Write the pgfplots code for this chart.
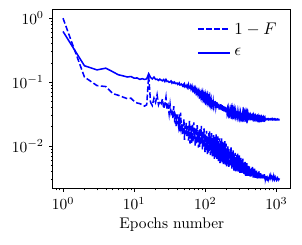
\documentclass[border=0pt]{standalone}
\usepackage{pgfplots}
\pgfplotsset{compat=1.18}
\usepackage{pgfplotstable}
\pgfplotstableread{
e d s
1 1.0 0.62
2 0.12 0.18
3 0.088 0.155
4 0.085 0.165
5 0.066 0.145
6 0.062 0.13
7 0.058 0.125
8 0.055 0.12
9 0.056 0.122
10 0.050 0.115
11 0.047 0.116
12 0.046 0.11
13 0.044 0.113
14 0.042 0.11
15 0.044 0.112
16 0.125 0.135
17 0.0482 0.118
18 0.0429 0.1119
19 0.0559 0.1196
20 0.048 0.110
21 0.0631 0.111
22 0.0442 0.106
23 0.0505 0.111
24 0.0463 0.107
25 0.0543 0.1045
26 0.0384 0.1095
27 0.0446 0.1019
28 0.0578 0.110
29 0.0370 0.1021
30 0.0424 0.103
31 0.0317 0.0992
32 0.0446 0.1007
33 0.0331 0.1039
34 0.0370 0.0962
35 0.0270 0.0998
36 0.0419 0.0965
37 0.026 0.0995
38 0.0291 0.0946
39 0.0203 0.0951
40 0.0312 0.0964
41 0.0244 0.0917
42 0.0205 0.0939
43 0.0312 0.0970
44 0.0169 0.0900
45 0.0331 0.0906
46 0.0192 0.0930
47 0.0223 0.0897
48 0.0153 0.0868
49 0.0192 0.0906
50 0.0265 0.0868
51 0.0124 0.0922
52 0.0208 0.0847
53 0.0155 0.0870
54 0.0229 0.0851
55 0.0143 0.0885
56 0.0166 0.0814
57 0.0205 0.0844
58 0.0121 0.0908
59 0.0176 0.0812
60 0.0246 0.0840
61 0.0109 0.0820
62 0.0144 0.0863
63 0.0206 0.0779
64 0.0112 0.0811
65 0.0155 0.0857
66 0.0219 0.0765
67 0.0118 0.0801
68 0.0167 0.0729
69 0.0234 0.0752
70 0.0127 0.0794
71 0.0181 0.0712
72 0.0101 0.0741
73 0.0138 0.0786
74 0.0196 0.0697
75 0.0107 0.0732
76 0.0150 0.0662
77 0.0211 0.0683
78 0.0115 0.0722
79 0.0163 0.0644
80 0.0094 0.0672
81 0.0124 0.0715
82 0.0177 0.0628
83 0.0097 0.0660
84 0.0134 0.0596
85 0.0191 0.0613
86 0.0104 0.0652
87 0.0147 0.0580
88 0.0206 0.0608
89 0.0112 0.0655
90 0.0159 0.0575
91 0.0088 0.0608
92 0.0121 0.0658
93 0.0173 0.0572
94 0.0094 0.0611
95 0.0133 0.0543
96 0.0188 0.0569
97 0.0101 0.0607
98 0.0144 0.0537
99 0.0080 0.0567
100 0.0109 0.0610
101 0.0158 0.0533
102 0.0085 0.0569
103 0.0121 0.0512
104 0.0172 0.0534
105 0.0092 0.0573
106 0.0132 0.0508
107 0.00745 0.0535
108 0.0100 0.0578
109 0.0144 0.0505
110 0.0078 0.0537
111 0.0110 0.0487
112 0.0158 0.0506
113 0.0084 0.0542
114 0.0121 0.0482
115 0.0172 0.0505
116 0.0092 0.0543
117 0.0133 0.0478
118 0.0072 0.0507
119 0.0100 0.0548
120 0.0146 0.0477
121 0.0077 0.0511
122 0.0111 0.0457
123 0.0159 0.0479
124 0.0084 0.0517
125 0.0122 0.0455
126 0.0067 0.0483
127 0.0093 0.0522
128 0.0135 0.0455
129 0.0071 0.0488
130 0.0103 0.0437
131 0.0148 0.0456
132 0.0078 0.0493
133 0.0113 0.0434
134 0.0063 0.0459
135 0.0085 0.0499
136 0.0126 0.0434
137 0.0066 0.0464
138 0.0094 0.0506
139 0.0138 0.0435
140 0.0072 0.0469
141 0.0105 0.0413
142 0.0152 0.0437
143 0.0079 0.0474
144 0.0116 0.0412
145 0.0061 0.0441
146 0.0087 0.0482
147 0.0128 0.0412
148 0.0066 0.0445
149 0.0097 0.0392
150 0.0141 0.0414
151 0.0072 0.0452
152 0.0108 0.0390
153 0.0058 0.0418
154 0.0080 0.0457
155 0.0119 0.0391
156 0.0061 0.0422
157 0.0089 0.0372
158 0.0131 0.0392
159 0.0066 0.0428
160 0.0099 0.0373
161 0.0054 0.0398
162 0.0074 0.0438
163 0.0110 0.0376
164 0.0057 0.0407
165 0.0082 0.0449
166 0.0120 0.0381
167 0.0062 0.0415
168 0.0091 0.0363
169 0.0131 0.0387
170 0.0068 0.0426
171 0.0101 0.0366
172 0.0054 0.0395
173 0.0075 0.0436
174 0.0110 0.0370
175 0.0058 0.0403
176 0.0084 0.0354
177 0.0120 0.0375
178 0.0064 0.0412
179 0.0092 0.0355
180 0.0052 0.0382
181 0.0069 0.0419
182 0.0101 0.0358
183 0.0054 0.0386
184 0.0076 0.0345
185 0.0110 0.0362
186 0.0059 0.0394
187 0.0084 0.0345
188 0.0119 0.0367
189 0.0065 0.0402
190 0.0092 0.0347
191 0.0051 0.0373
192 0.0070 0.0410
193 0.0100 0.0352
194 0.0055 0.0380
195 0.0077 0.0336
196 0.0109 0.0356
197 0.0059 0.0386
198 0.0084 0.0338
199 0.0048 0.0361
200 0.0065 0.0393
202 0.0092 0.0340
204 0.0051 0.0366
206 0.0071 0.0329
208 0.0099 0.0345
210 0.0055 0.0373
212 0.0076 0.0329
214 0.0045 0.0349
216 0.0059 0.0380
218 0.0083 0.0332
220 0.0047 0.0353
222 0.0064 0.0321
224 0.0089 0.0334
226 0.0050 0.0358
228 0.0070 0.0321
230 0.0095 0.0337
232 0.0054 0.0362
234 0.0075 0.0322
236 0.0044 0.0341
238 0.0058 0.0366
240 0.0080 0.0324
242 0.0046 0.0345
244 0.0063 0.0313
246 0.0085 0.0327
248 0.0049 0.0348
250 0.0067 0.0314
252 0.0041 0.0330
254 0.0053 0.0353
256 0.0073 0.0317
258 0.0043 0.0335
260 0.0058 0.0309
262 0.0078 0.0320
264 0.0046 0.0341
266 0.0062 0.0309
268 0.0040 0.0324
270 0.0050 0.0347
272 0.0067 0.0311
274 0.0041 0.0329
276 0.0053 0.0354
278 0.0072 0.0314
280 0.0043 0.0334
282 0.0057 0.0305
284 0.0077 0.0318
286 0.0047 0.0341
288 0.0062 0.0306
290 0.0039 0.0323
292 0.0050 0.0347
294 0.0066 0.0309
296 0.0041 0.0328
298 0.0054 0.0299
300 0.0071 0.0313
302 0.0043 0.0333
304 0.0057 0.0301
306 0.0038 0.0317
308 0.0046 0.0337
310 0.0061 0.0304
312 0.0039 0.0321
314 0.0050 0.0296
316 0.0065 0.0307
318 0.0041 0.0325
320 0.0053 0.0297
322 0.00365 0.0309
324 0.0044 0.0327
326 0.0057 0.0299
328 0.0038 0.0313
330 0.0046 0.0331
332 0.0060 0.0301
334 0.0039 0.0316
336 0.0049 0.0293
338 0.0063 0.0303
340 0.0041 0.0318
342 0.0052 0.0294
344 0.0036 0.0305
346 0.0043 0.0319
348 0.0055 0.0295
350 0.0037 0.0307
352 0.0035 0.0290
354 0.0042 0.0297
356 0.0053 0.0310
358 0.0036 0.0290
360 0.0045 0.0300
362 0.0056 0.0313
364 0.0038 0.0291
366 0.0047 0.0301
368 0.0034 0.0286
370 0.0040 0.0293
372 0.0049 0.0305
374 0.0035 0.0286
376 0.0042 0.0294
378 0.0052 0.0308
380 0.0036 0.0287
382 0.0044 0.0297
384 0.0054 0.0312
386 0.0038 0.0288
388 0.0046 0.0300
390 0.0034 0.0283
392 0.0039 0.0290
394 0.0048 0.0303
396 0.0035 0.0282
398 0.0041 0.0293
400 0.0050 0.0307
404 0.0046 0.0284
408 0.0034 0.0295
412 0.0040 0.0278
416 0.0048 0.0286
420 0.0035 0.0297
424 0.0042 0.0278
428 0.00326 0.0287
432 0.0037 0.0299
436 0.0044 0.0279
440 0.0033 0.0288
444 0.0038 0.0274
448 0.0045 0.0279
452 0.0034 0.0289
456 0.0040 0.0273
460 0.0047 0.0280
464 0.0035 0.0291
468 0.0041 0.0273
472 0.0032 0.0281
476 0.0036 0.0293
480 0.0042 0.0273
484 0.0033 0.0282
488 0.0037 0.0267
492 0.0044 0.0274
496 0.0034 0.0283
500 0.0039 0.0268
504 0.00316 0.0274
508 0.0035 0.0284
512 0.0040 0.0268
516 0.0032 0.0275
520 0.0036 0.0263
524 0.0041 0.0267
528 0.0033 0.0276
532 0.0036 0.0262
536 0.0031 0.0268
540 0.0033 0.0277
544 0.0037 0.0263
548 0.0031 0.0270
552 0.0034 0.0280
556 0.0039 0.0264
560 0.0032 0.0272
564 0.0035 0.0260
568 0.0040 0.0266
572 0.0033 0.0274
576 0.0036 0.0262
580 0.0031 0.0268
584 0.0033 0.0275
588 0.0037 0.0262
592 0.0031 0.0269
596 0.0034 0.0259
600 0.0038 0.0264
604 0.0032 0.0271
608 0.0035 0.0260
612 0.0031 0.0265
616 0.0033 0.0273
620 0.0036 0.0261
624 0.0031 0.0267
628 0.0033 0.0259
632 0.0037 0.0263
636 0.0032 0.0269
640 0.0034 0.0260
644 0.00305 0.0264
648 0.0032 0.0270
652 0.0035 0.0261
656 0.0031 0.0265
660 0.0033 0.0272
664 0.0035 0.0262
668 0.0031 0.0267
672 0.0033 0.0259
676 0.0036 0.0263
680 0.0031 0.0268
684 0.0034 0.0259
688 0.0030 0.0263
692 0.0032 0.0269
696 0.0034 0.0260
700 0.0030 0.0264
710 0.0032 0.0258
720 0.0034 0.0261
730 0.0031 0.0265
740 0.0032 0.0259
750 0.0030 0.0262
760 0.0031 0.0266
770 0.0033 0.0259
780 0.0030 0.0263
790 0.00314 0.0258
800 0.0033 0.0260
810 0.0030 0.0264
820 0.0032 0.0258
830 0.0034 0.0261
840 0.0031 0.0265
850 0.0032 0.0259
860 0.0030 0.0262
870 0.0031 0.0266
880 0.0032 0.0259
890 0.0030 0.0263
900 0.00312 0.0258
910 0.0033 0.0260
920 0.0030 0.0263
930 0.00314 0.0258
940 0.00296 0.0260
950 0.00304 0.0264
960 0.00316 0.0258
970 0.00298 0.0261
980 0.00306 0.0257
990 0.00318 0.0259
1000 0.00299 0.0261
1010 0.00307 0.0257
1020 0.00295 0.0259
1030 0.0030 0.0262
1040 0.00309 0.0258
1050 0.00296 0.0260
1060 0.00302 0.0257
1070 0.0031 0.0258
1080 0.00297 0.0260
1090 0.00303 0.0257
1100 0.0031 0.0259
}\data
\begin{document}
\begin{tikzpicture}
\begin{axis}[
  scale only axis, width=154.4pt, height=115.8pt,
  xmode=log, ymode=log,
  xmin=0.72, xmax=1590, ymin=0.00217, ymax=1.35,
  axis line style={line width=0.5pt},
  tick align=outside, xtick pos=bottom, ytick pos=left,
  major tick length=2.3pt, minor tick length=1.3pt,
  every tick/.style={black, line width=0.4pt},
  tick label style={font=\fontsize{10}{12}\selectfont},
  xlabel={Epochs number},
  xlabel style={font=\fontsize{10}{12}\selectfont, yshift=2pt},
  legend style={at={(1,1)}, anchor=north east, draw=none, fill=none,
    font=\fontsize{11}{13}\selectfont, row sep=3.5pt, xshift=-4pt, yshift=-4pt},
  legend cell align=left,
  legend image code/.code={\draw[#1, draw=blue, line width=1.2pt] (0cm,0cm) -- (0.74cm,0cm);},
]
\addplot[blue, line width=1pt, dash pattern=on 3.7pt off 1.6pt] table[x=e, y=d] {\data};
\addlegendentry{$1-F$}
\addplot[blue, line width=1pt] table[x=e, y=s] {\data};
\addlegendentry{$\epsilon$}
\end{axis}
\path ([shift={(-4.4pt,-5.6pt)}]current bounding box.south west) rectangle ([shift={(6pt,4.4pt)}]current bounding box.north east);
\end{tikzpicture}
\end{document}
